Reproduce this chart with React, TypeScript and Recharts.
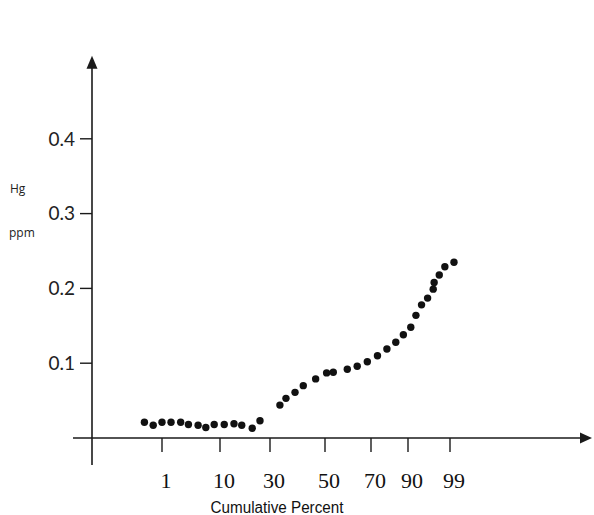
import { ScatterChart, Scatter, XAxis, YAxis, ReferenceLine } from 'recharts'

// cumulative percent of each sample
const cumPercent = [
    0.2, 0.6, 1.0, 2.4, 3.9, 5.1, 6.6, 7.8, 9.1, 11.7, 15.6, 18.7, 22.9, 26.0,
    33.6, 35.8, 39.1, 42.1, 46.6, 50.7, 53.6, 59.7, 64.0, 68.4, 73.5, 78.6,
    83.4, 87.5, 90.6, 91.7, 92.9, 94.2, 95.4, 95.6, 96.7, 97.9, 99.4,
]

// mercury content, ppm
const hgPpm = [
    0.021, 0.017, 0.021, 0.021, 0.021, 0.018, 0.017, 0.014, 0.018, 0.018,
    0.019, 0.017, 0.013, 0.023, 0.044, 0.053, 0.061, 0.07, 0.079, 0.087,
    0.088, 0.092, 0.096, 0.102, 0.11, 0.119, 0.128, 0.138, 0.148, 0.164,
    0.178, 0.187, 0.199, 0.208, 0.218, 0.229, 0.235,
]

const percentTicks = [1, 10, 30, 50, 70, 90, 99]
const ppmTicks = [0.1, 0.2, 0.3, 0.4]

// hand drawn probability paper: where each percent sits along the axis
const scalePercent = [0, 1, 10, 30, 50, 70, 90, 99, 100]
const scalePos = [0, 22, 80, 130, 185, 231, 268, 310, 320]

const toPos = (p: number) => {
    for (let i = 0; i < scalePercent.length - 1; i++) {
        const a = scalePercent[i]
        const b = scalePercent[i + 1]
        if (p <= b || i === scalePercent.length - 2) {
            const t = (p - a) / (b - a)
            return scalePos[i] + t * (scalePos[i + 1] - scalePos[i])
        }
    }
    return 0
}

const data = cumPercent.map((p, i) => ({ pos: toPos(p), hg: hgPpm[i], pct: p }))
const tickPos = percentTicks.map(toPos)

const AXIS = '#1a1a1a'

const XArrow = (props: any) => {
    const { x1, y1, x2, y2 } = props
    return (
        <g>
            <line x1={x1} y1={y1} x2={x2 - 6} y2={y2} stroke={AXIS} strokeWidth={1.6} />
            <polygon points={`${x2},${y2} ${x2 - 12},${y2 - 5.5} ${x2 - 12},${y2 + 5.5}`} fill={AXIS} />
        </g>
    )
}

const YArrow = (props: any) => {
    const { x1, y1, x2, y2 } = props
    // y2 is the top end
    return (
        <g>
            <line x1={x1} y1={y1} x2={x2} y2={y2 + 6} stroke={AXIS} strokeWidth={1.6} />
            <polygon points={`${x2},${y2} ${x2 - 5.5},${y2 + 13} ${x2 + 5.5},${y2 + 13}`} fill={AXIS} />
        </g>
    )
}

const PercentTick = ({ x, y, payload }: any) => {
    const idx = tickPos.findIndex(t => Math.abs(t - payload.value) < 0.01)
    const label = idx >= 0 ? percentTicks[idx] : ''
    return (
        <text
            x={x + 4}
            y={y}
            dy={34}
            textAnchor="middle"
            fontFamily="'Liberation Serif', 'DejaVu Serif', serif"
            fontSize={22}
            fill="#111"
        >
            {label}
        </text>
    )
}

export default function App() {
    return (
        <div style={{ position: 'absolute', left: 0, top: 0, width: 594, height: 515, background: '#fff' }}>
            <ScatterChart width={594} height={515} margin={{ top: 64, right: 4, bottom: 0, left: 0 }}>
                <XAxis
                    type="number"
                    dataKey="pos"
                    domain={[-48, 450]}
                    ticks={tickPos}
                    allowDataOverflow
                    height={77}
                    axisLine={false}
                    tickSize={14}
                    tickLine={{ stroke: AXIS, strokeWidth: 1.4 }}
                    tick={<PercentTick />}
                    interval={0}
                    label={{
                        content: () => (
                            <text
                                x={277}
                                y={513}
                                textAnchor="middle"
                                fontFamily="'Liberation Sans', Arial, sans-serif"
                                fontSize={16}
                                textLength={133}
                                lengthAdjust="spacingAndGlyphs"
                                fill="#111"
                            >
                                Cumulative Percent
                            </text>
                        ),
                    }}
                />
                <YAxis
                    type="number"
                    dataKey="hg"
                    domain={[0, 0.5]}
                    ticks={ppmTicks}
                    allowDataOverflow
                    width={92}
                    axisLine={false}
                    tickSize={12}
                    tickMargin={5}
                    tickLine={{ stroke: AXIS, strokeWidth: 1.4 }}
                    tick={{ fontFamily: 'Lato, sans-serif', fontSize: 19, fill: '#222' }}
                    interval={0}
                    label={{
                        content: () => (
                            <g fontFamily="'Open Sans', sans-serif" fontSize={12} fill="#222">
                                <text x={10} y={193}>Hg</text>
                                <text x={9} y={237}>ppm</text>
                            </g>
                        ),
                    }}
                />
                <ReferenceLine
                    segment={[{ x: -67, y: 0 }, { x: 452, y: 0 }]}
                    ifOverflow="visible"
                    shape={<XArrow />}
                />
                <ReferenceLine
                    segment={[{ x: -48, y: -0.036 }, { x: -48, y: 0.511 }]}
                    ifOverflow="visible"
                    shape={<YArrow />}
                />
                <Scatter
                    data={data}
                    isAnimationActive={false}
                    shape={(p: any) => <circle cx={p.cx} cy={p.cy} r={3.7} fill="#111" />}
                />
            </ScatterChart>
        </div>
    )
}
